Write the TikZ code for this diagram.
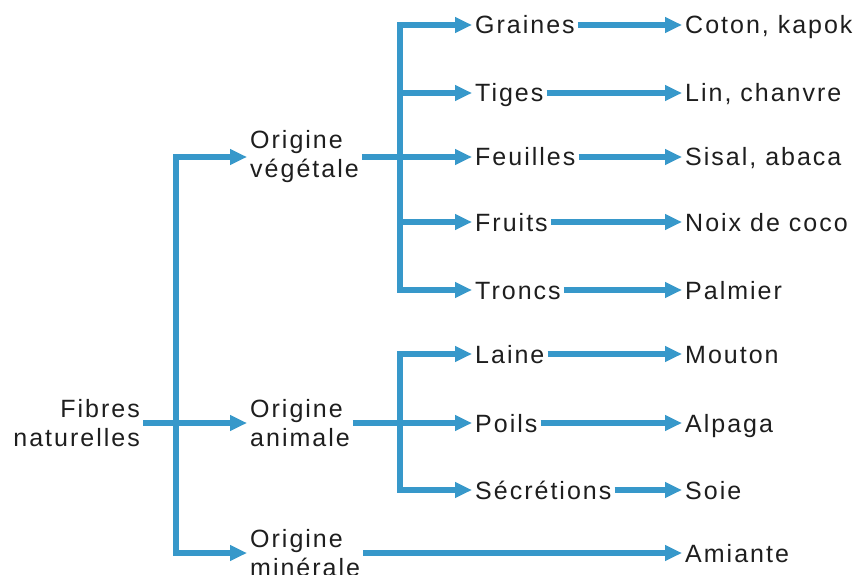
\documentclass[tikz,border=0pt]{standalone}
\usepackage{fontspec}
\setmainfont[LetterSpace=8]{Liberation Sans}
\usetikzlibrary{arrows.meta}
\definecolor{fibreblue}{RGB}{55,152,202}
\definecolor{labelgrey}{RGB}{30,30,30}
\tikzset{
  link/.style={draw=fibreblue, line width=6.5pt},
  arr/.style={link, -{Triangle[length=17pt,width=15pt]}},
  lab/.style={anchor=west, inner sep=3pt, text=labelgrey, font=\fontsize{25}{29}\selectfont,
              text height=18pt, text depth=0pt},
  lab2/.style={anchor=west, inner sep=3pt, text=labelgrey, font=\fontsize{25}{29}\selectfont, align=left}
}
\begin{document}
\begin{tikzpicture}[x=1pt,y=-1pt]
\useasboundingbox[fill=white] (0,0) rectangle (865,575);
% Root and main branches
\node[lab2, anchor=east, align=right] (fibres) at (143,423) {Fibres\\naturelles};
\node[lab2] (veg) at (247,157) {Origine\\végétale};
\node[lab2] (ani) at (247,423) {Origine\\animale};
\node[lab2] (min) at (247,553) {Origine\\minérale};
% Parts of the plant
\node[lab] (graines) at (472,25) {Graines};
\node[lab] (tiges) at (472,93) {Tiges};
\node[lab] (feuilles) at (472,157) {Feuilles};
\node[lab] (fruits) at (472,222) {Fruits};
\node[lab] (troncs) at (472,290) {Troncs};
% Animal parts
\node[lab] (laine) at (472,354) {Laine};
\node[lab] (poils) at (472,423) {Poils};
\node[lab] (secr) at (472,490) {Sécrétions};
% Sources
\node[lab] (coton) at (682,25) {Coton, kapok};
\node[lab] (lin) at (682,93) {Lin, chanvre};
\node[lab] (sisal) at (682,157) {Sisal, abaca};
\node[lab] (noix) at (682,222) {Noix de coco};
\node[lab] (palmier) at (682,290) {Palmier};
\node[lab] (mouton) at (682,354) {Mouton};
\node[lab] (alpaga) at (682,423) {Alpaga};
\node[lab] (soie) at (682,490) {Soie};
\node[lab] (amiante) at (682,553) {Amiante};
% Main trunk
\coordinate (root) at (176,423);
\draw[arr] (fibres.east) -- (ani.west);
\draw[arr] (root) |- (veg.west);
\draw[arr] (root) |- (min.west);
% Vegetable branch
\coordinate (vj) at (400,157);
\draw[arr] (veg.east) -- (feuilles.west);
\foreach \n in {graines,tiges,fruits,troncs}
  \draw[arr] (vj) |- (\n.west);
% Animal branch
\coordinate (aj) at (400,423);
\draw[arr] (ani.east) -- (poils.west);
\foreach \n in {laine,secr}
  \draw[arr] (aj) |- (\n.west);
% Second level
\draw[arr] (graines.east) -- (coton.west);
\draw[arr] (tiges.east) -- (lin.west);
\draw[arr] (feuilles.east) -- (sisal.west);
\draw[arr] (fruits.east) -- (noix.west);
\draw[arr] (troncs.east) -- (palmier.west);
\draw[arr] (laine.east) -- (mouton.west);
\draw[arr] (poils.east) -- (alpaga.west);
\draw[arr] (secr.east) -- (soie.west);
\draw[arr] (min.east) -- (amiante.west);
\end{tikzpicture}
\end{document}
